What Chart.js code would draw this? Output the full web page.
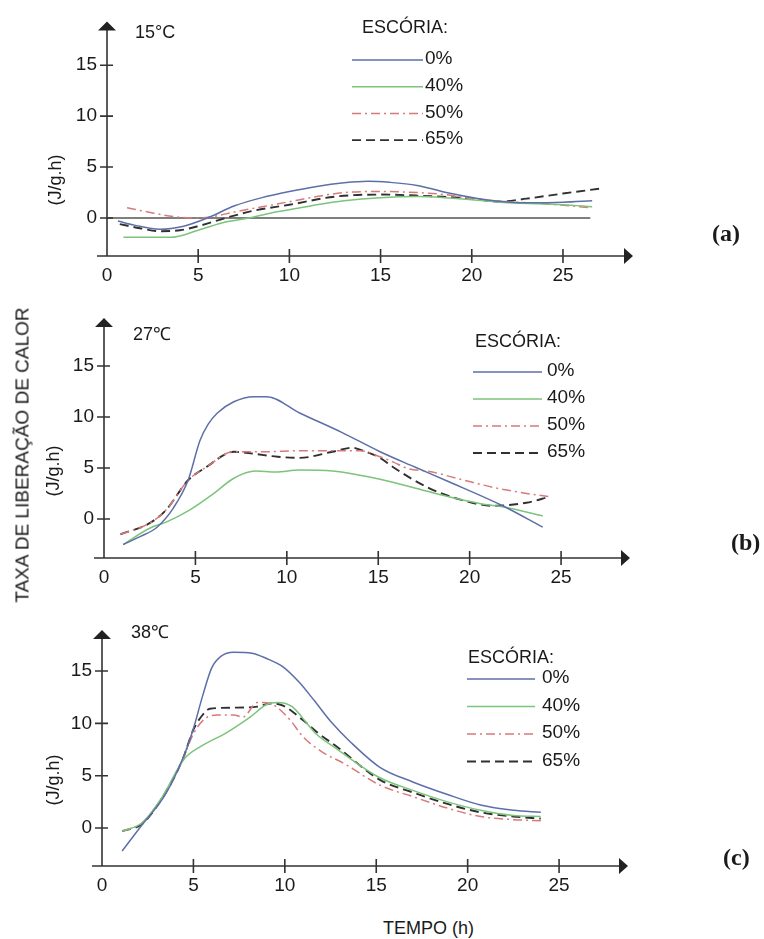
<!DOCTYPE html>
<html>
<head>
<meta charset="utf-8">
<script src="https://cdn.jsdelivr.net/npm/chart.js@4.4.1/dist/chart.umd.min.js"></script>
<style>
    body { margin: 0; background: #fff; width: 764px; height: 939px; position: relative; overflow: hidden;
           font-family: "Liberation Sans", Arial, sans-serif; color: #1a1a1a; }
    canvas { position: absolute; left: 0; }
    .txt { position: absolute; white-space: nowrap; font-size: 18px; line-height: 1; }
    .rot { transform: translate(-50%, -50%) rotate(-90deg); }
    .letter { font-family: "Liberation Serif", "Times New Roman", serif; font-weight: bold; font-size: 24px; }
</style>
</head>
<body>
<canvas id="chartA" width="764" height="290" style="top:0"></canvas>
<canvas id="chartB" width="764" height="310" style="top:290px"></canvas>
<canvas id="chartC" width="764" height="300" style="top:600px"></canvas>

<div class="txt rot" style="left:22px;top:455px;font-size:19px">TAXA DE LIBERAÇÃO DE CALOR</div>
<div class="txt rot" style="left:55px;top:180px">(J/g.h)</div>
<div class="txt rot" style="left:53px;top:471px">(J/g.h)</div>
<div class="txt rot" style="left:53px;top:780px">(J/g.h)</div>
<div class="txt" style="left:383px;top:919px">TEMPO (h)</div>
<div class="txt letter" style="left:712px;top:221px">(a)</div>
<div class="txt letter" style="left:731px;top:530px">(b)</div>
<div class="txt letter" style="left:723px;top:845px">(c)</div>

<script>
const escoria = ['0%', '40%', '50%', '65%'];
const legendTitle = 'ESCÓRIA:';
const xTicks = [0, 5, 10, 15, 20, 25];
const yTicks = [0, 5, 10, 15];

// (a) 15°C  - tempo (h) / taxa (J/g.h)
const a0t = [0.6, 1.5, 2.9, 4.2, 5.5, 7.0, 8.5, 10, 11.5, 13, 14.3, 15.5, 17, 18.6, 20.4, 21.5, 23, 25, 26.6];
const a0v = [-0.3, -0.7, -1.1, -0.8, 0, 1.2, 2.0, 2.6, 3.1, 3.45, 3.6, 3.5, 3.2, 2.5, 1.9, 1.65, 1.5, 1.55, 1.7];
const a1t = [0.9, 2.0, 3.5, 5.0, 6.5, 7.8, 9.0, 10, 11.5, 13, 15, 17, 18.5, 20, 22, 25, 26.6];
const a1v = [-1.9, -1.9, -1.9, -1.2, -0.4, 0, 0.5, 0.8, 1.3, 1.7, 2.0, 2.1, 2.0, 1.8, 1.5, 1.3, 1.1];
const a2t = [1.1, 2.5, 3.8, 5.0, 6.0, 7.0, 8.5, 10, 11.5, 13, 15, 17, 18.5, 20, 22, 24, 26.6];
const a2v = [1.0, 0.5, 0.1, 0, 0.2, 0.6, 1.1, 1.6, 2.1, 2.5, 2.6, 2.5, 2.3, 1.9, 1.6, 1.4, 1.0];
const a3t = [0.7, 1.8, 2.9, 4.0, 5.0, 6.5, 8.0, 10, 12.5, 15, 17, 20, 21.5, 23, 25, 27.1];
const a3v = [-0.6, -1.0, -1.3, -1.2, -0.8, 0, 0.7, 1.3, 2.1, 2.3, 2.2, 1.9, 1.6, 1.9, 2.4, 2.9];
const aBaseT = [0, 26.5];
const aBaseV = [0, 0];

// (b) 27°C
const b0t = [1.05, 2.0, 2.9, 3.8, 4.6, 5.25, 5.7, 6.2, 7.1, 8.2, 8.9, 10.7, 13.0, 15.1, 17.0, 18.8, 21.8, 24.0];
const b0v = [-2.5, -1.7, -0.8, 1.1, 3.8, 7.7, 9.3, 10.4, 11.5, 12.0, 12.0, 10.4, 8.5, 6.6, 5.1, 3.7, 1.3, -0.8];
const b1t = [1.05, 2.5, 3.4, 4.7, 6.0, 7.1, 8.3, 9.4, 10.7, 12.5, 14.0, 15.1, 16.9, 18.8, 20.6, 21.8, 24.0];
const b1v = [-2.5, -0.9, -0.3, 0.9, 2.5, 4.0, 4.7, 4.6, 4.8, 4.7, 4.3, 3.9, 3.1, 2.2, 1.5, 1.2, 0.3];
const b2t = [0.9, 2.5, 3.4, 4.6, 5.6, 7.1, 8.9, 10.7, 12.5, 14.0, 15.1, 15.8, 16.7, 17.7, 19.5, 21.3, 22.8, 24.3];
const b2v = [-1.5, -0.4, 0.9, 3.8, 5.1, 6.6, 6.6, 6.7, 6.7, 6.7, 6.1, 5.6, 4.9, 4.7, 3.9, 3.1, 2.6, 2.2];
const b3t = [0.9, 2.5, 3.4, 4.6, 5.6, 7.1, 8.2, 9.5, 10.7, 12.5, 13.6, 14.0, 15.1, 15.8, 17.7, 19.5, 21.3, 23.1, 24.4];
const b3v = [-1.5, -0.4, 0.9, 3.8, 5.1, 6.6, 6.4, 6.1, 6.0, 6.6, 7.0, 6.8, 6.0, 5.1, 3.1, 1.9, 1.3, 1.6, 2.2];

// (c) 38°C
const c0t = [1.1, 2.1, 3.5, 4.5, 5.0, 5.5, 6.0, 6.5, 7.2, 8.2, 9.0, 9.9, 10.8, 11.6, 12.5, 13.6, 15.2, 17.0, 18.9, 20.7, 22.5, 24.0];
const c0v = [-2.2, 0.1, 3.3, 7.0, 9.5, 12.6, 15.3, 16.4, 16.8, 16.7, 16.2, 15.4, 13.9, 12.2, 10.2, 8.2, 5.8, 4.4, 3.2, 2.2, 1.7, 1.5];
const c1t = [1.1, 2.2, 3.2, 4.5, 5.4, 6.8, 8.1, 9.0, 9.6, 10.4, 11.3, 11.7, 12.8, 15.2, 17.0, 18.9, 20.7, 22.5, 24.0];
const c1v = [-0.3, 0.5, 2.7, 6.6, 7.8, 9.1, 10.6, 11.8, 12.0, 11.6, 9.8, 9.0, 7.6, 4.8, 3.6, 2.5, 1.7, 1.2, 1.1];
const c2t = [1.1, 2.2, 3.2, 4.4, 5.0, 5.6, 6.3, 7.2, 7.7, 8.5, 9.2, 9.6, 10.3, 11.0, 12.1, 13.2, 15.2, 17.0, 18.9, 20.7, 22.5, 24.0];
const c2v = [-0.3, 0.5, 2.7, 6.5, 9.0, 10.4, 10.8, 10.8, 10.6, 12.0, 11.9, 11.5, 10.3, 8.7, 7.2, 6.2, 4.1, 3.0, 1.9, 1.1, 0.8, 0.7];
const c3t = [1.1, 2.2, 3.2, 4.4, 5.0, 5.5, 5.9, 7.2, 8.5, 9.2, 9.9, 11.0, 11.8, 12.9, 15.2, 17.0, 18.9, 20.7, 22.5, 24.0];
const c3v = [-0.3, 0.4, 2.6, 6.5, 9.4, 10.8, 11.4, 11.5, 11.6, 11.9, 11.7, 10.3, 9.1, 7.7, 4.6, 3.4, 2.3, 1.5, 1.1, 0.9];

const lineColors = ['#5d6fa8', '#7cc37c', '#d77a7a', '#303030'];
const lineDashes = [[], [], [9, 4, 2, 4], [9, 5]];
const lineWidths = [1.5, 1.5, 1.5, 1.9];
const FONT = '"Liberation Sans", Arial, sans-serif';
const W = 764;

const pts = (t, v) => t.map((x, i) => ({ x: x, y: v[i] }));

function makeDatasets(series) {
    return series.map((s, i) => ({
        label: escoria[i],
        data: pts(s[0], s[1]),
        borderColor: lineColors[i],
        borderDash: lineDashes[i],
        borderWidth: lineWidths[i],
        pointRadius: 0,
        cubicInterpolationMode: 'monotone',
        fill: false
    }));
}

// eixos com setas e marcas cruzando o eixo
const axesPlugin = {
    id: 'axes',
    afterDatasetsDraw(chart) {
        const { ctx, chartArea: a } = chart;
        const x = chart.scales.x, y = chart.scales.y;
        ctx.save();
        ctx.strokeStyle = '#333';
        ctx.fillStyle = '#222';
        ctx.lineWidth = 1.6;
        ctx.beginPath();
        ctx.moveTo(a.left - 10, a.bottom);
        ctx.lineTo(a.right - 6, a.bottom);
        ctx.moveTo(a.left, a.bottom);
        ctx.lineTo(a.left, a.top + 6);
        xTicks.forEach(v => {
            if (v === 0) return;
            const px = x.getPixelForValue(v);
            ctx.moveTo(px, a.bottom - 7);
            ctx.lineTo(px, a.bottom + 7);
        });
        yTicks.forEach(v => {
            const py = y.getPixelForValue(v);
            ctx.moveTo(a.left - 7, py);
            ctx.lineTo(a.left + 6, py);
        });
        ctx.stroke();
        ctx.beginPath();
        ctx.moveTo(a.left, a.top);
        ctx.lineTo(a.left - 9, a.top + 9);
        ctx.lineTo(a.left + 9, a.top + 9);
        ctx.closePath();
        ctx.moveTo(a.right, a.bottom);
        ctx.lineTo(a.right - 9, a.bottom - 8);
        ctx.lineTo(a.right - 9, a.bottom + 8);
        ctx.closePath();
        ctx.fill();
        ctx.restore();
    }
};

// legenda "ESCÓRIA:" e rótulo de temperatura
const panelPlugin = {
    id: 'panel',
    afterDraw(chart, args, opts) {
        const { ctx } = chart;
        ctx.save();
        ctx.fillStyle = '#1a1a1a';
        ctx.textBaseline = 'middle';
        ctx.font = '18px ' + FONT;
        ctx.fillText(opts.temp, opts.tempX, opts.tempY);
        ctx.fillText(legendTitle, opts.titleX, opts.titleY);
        ctx.font = '19px ' + FONT;
        chart.data.datasets.filter(d => d.label).forEach((d, i) => {
            const yy = opts.rowY + i * opts.rowGap;
            ctx.strokeStyle = d.borderColor;
            ctx.lineWidth = d.borderWidth;
            ctx.setLineDash(d.borderDash);
            ctx.beginPath();
            ctx.moveTo(opts.lineX1, yy);
            ctx.lineTo(opts.lineX2, yy);
            ctx.stroke();
            ctx.setLineDash([]);
            ctx.fillText(d.label, opts.textX, yy - 1);
        });
        ctx.restore();
    }
};

function makeChart(id, datasets, g, panel) {
    const canvas = document.getElementById(id);
    const H = canvas.height;
    const tickFont = { family: FONT, size: 19 };
    return new Chart(canvas, {
        type: 'line',
        data: { datasets: datasets },
        plugins: [axesPlugin, panelPlugin],
        options: {
            responsive: false,
            animation: false,
            layout: { padding: { top: g.top, right: W - g.right, left: 0, bottom: 0 } },
            plugins: {
                legend: { display: false },
                tooltip: { enabled: false },
                panel: panel
            },
            scales: {
                x: {
                    type: 'linear',
                    min: 0,
                    max: g.xMax,
                    grid: { display: false, drawTicks: false },
                    border: { display: false },
                    ticks: { font: tickFont, color: '#1a1a1a', padding: 8, autoSkip: false, maxRotation: 0 },
                    afterBuildTicks: s => { s.ticks = xTicks.map(v => ({ value: v })); },
                    afterFit: s => { s.height = H - g.bottom; }
                },
                y: {
                    type: 'linear',
                    min: g.yMin,
                    max: g.yMax,
                    grid: { display: false, drawTicks: false },
                    border: { display: false },
                    ticks: { font: tickFont, color: '#1a1a1a', padding: 10, autoSkip: false },
                    afterBuildTicks: s => { s.ticks = yTicks.map(v => ({ value: v })); },
                    afterFit: s => { s.width = g.left; }
                }
            }
        }
    });
}

const dsA = makeDatasets([[a0t, a0v], [a1t, a1v], [a2t, a2v], [a3t, a3v]]);
dsA.push({
    label: '',
    data: pts(aBaseT, aBaseV),
    borderColor: '#555',
    borderWidth: 1.3,
    pointRadius: 0,
    fill: false
});

makeChart('chartA', dsA,
    { left: 107, right: 633, top: 15, bottom: 256, xMax: 28.84, yMin: -3.73, yMax: 19.3 },
    { temp: '15°C', tempX: 135, tempY: 33, titleX: 362, titleY: 28,
      lineX1: 352, lineX2: 423, textX: 425, rowY: 60, rowGap: 26.7 });

makeChart('chartB', makeDatasets([[b0t, b0v], [b1t, b1v], [b2t, b2v], [b3t, b3v]]),
    { left: 104, right: 630, top: 28, bottom: 268, xMax: 28.77, yMin: -3.82, yMax: 19.71 },
    { temp: '27℃', tempX: 133, tempY: 45, titleX: 475, titleY: 52,
      lineX1: 473, lineX2: 542, textX: 547, rowY: 82, rowGap: 27 });

makeChart('chartC', makeDatasets([[c0t, c0v], [c1t, c1v], [c2t, c2v], [c3t, c3v]]),
    { left: 102, right: 628, top: 30, bottom: 266, xMax: 28.77, yMin: -3.63, yMax: 18.92 },
    { temp: '38℃', tempX: 131, tempY: 33, titleX: 468, titleY: 58,
      lineX1: 467, lineX2: 535, textX: 542, rowY: 79, rowGap: 27.5 });
</script>
</body>
</html>
